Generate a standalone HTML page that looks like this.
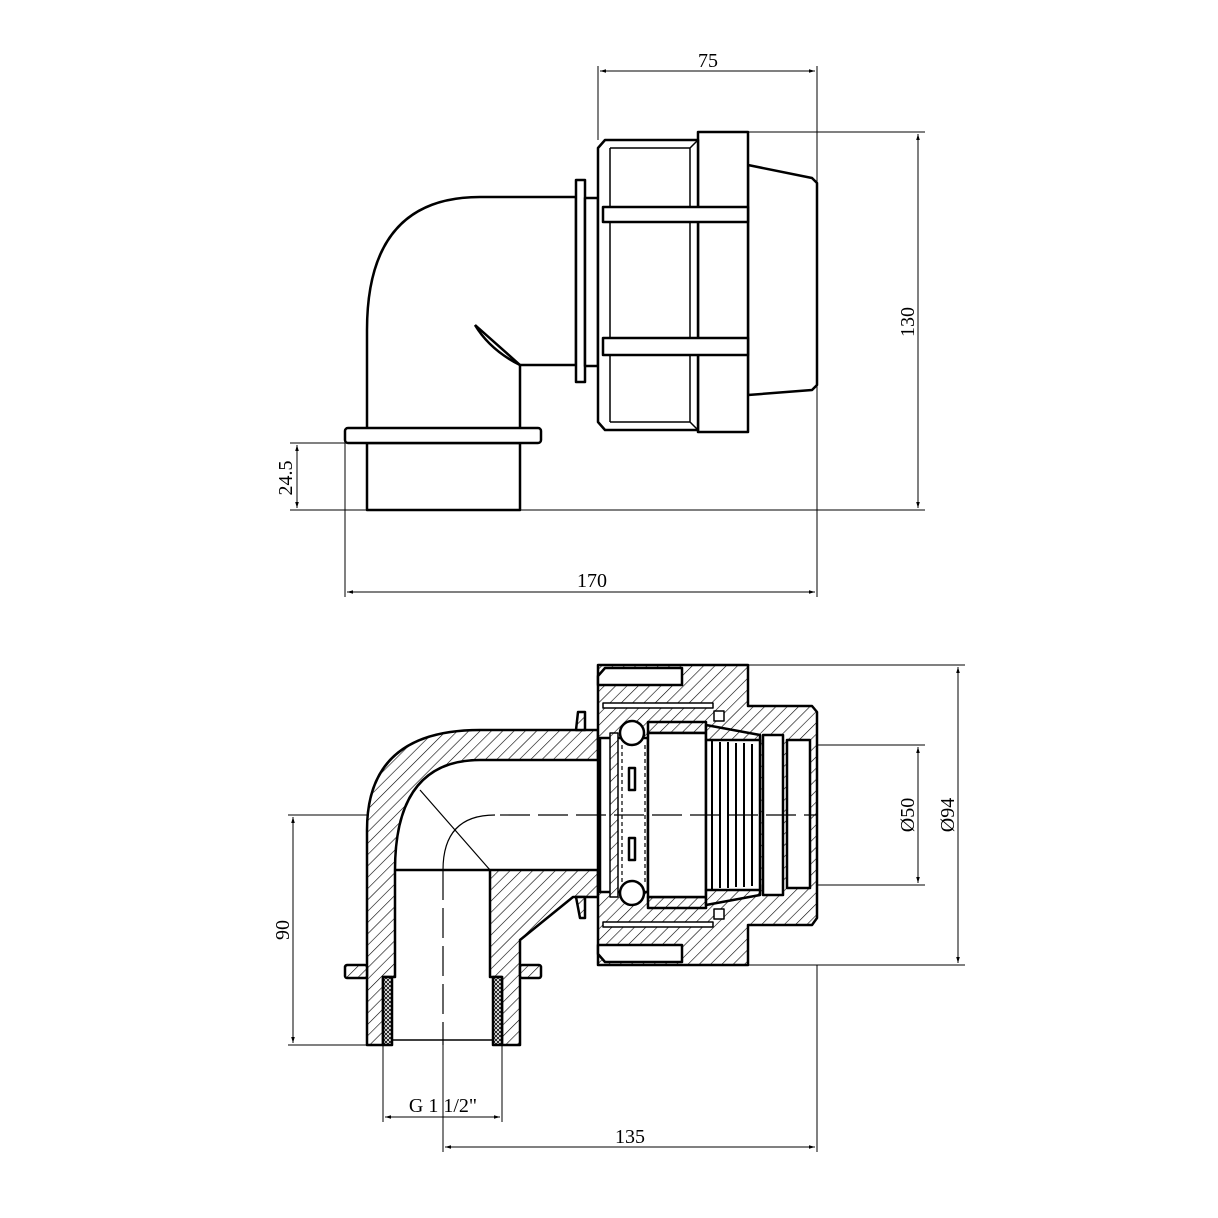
<!DOCTYPE html>
<html><head><meta charset="utf-8"><style>html,body{margin:0;padding:0;background:#fff}svg{display:block}</style></head><body>
<svg width="1218" height="1218" viewBox="0 0 1218 1218" xmlns="http://www.w3.org/2000/svg" font-family="Liberation Serif, serif" font-size="20">
<defs>
<pattern id="h" width="8" height="8" patternUnits="userSpaceOnUse" patternTransform="rotate(45)">
<rect width="8" height="8" fill="#fff"/><line x1="0" y1="0" x2="0" y2="8" stroke="#000" stroke-width="1.2"/></pattern>
<pattern id="x" width="4" height="4" patternUnits="userSpaceOnUse">
<rect width="4" height="4" fill="#fff"/><path d="M0,0 L4,4 M4,0 L0,4" stroke="#000" stroke-width="0.8"/></pattern>
<marker id="a" viewBox="0 0 10 10" refX="10" refY="5" markerWidth="14" markerHeight="6" orient="auto-start-reverse" markerUnits="userSpaceOnUse"><path d="M0,2 L10,5 L0,8 z" fill="#000"/></marker>
</defs>
<g fill="none" stroke="#000" stroke-width="1">
<line x1="598" y1="66" x2="598" y2="140"/><line x1="817" y1="66" x2="817" y2="597"/>
<line x1="600" y1="71" x2="815" y2="71" marker-start="url(#a)" marker-end="url(#a)"/>
<line x1="748" y1="132" x2="925" y2="132"/><line x1="520" y1="510" x2="925" y2="510"/>
<line x1="918" y1="134" x2="918" y2="508" marker-start="url(#a)" marker-end="url(#a)"/>
<line x1="290" y1="443" x2="345" y2="443"/><line x1="290" y1="510" x2="367" y2="510"/>
<line x1="297" y1="445" x2="297" y2="508" marker-start="url(#a)" marker-end="url(#a)"/>
<line x1="345" y1="443" x2="345" y2="597"/>
<line x1="347" y1="592" x2="815" y2="592" marker-start="url(#a)" marker-end="url(#a)"/>
<line x1="748" y1="665" x2="965" y2="665"/><line x1="748" y1="965" x2="965" y2="965"/>
<line x1="958" y1="667" x2="958" y2="963" marker-start="url(#a)" marker-end="url(#a)"/>
<line x1="817" y1="745" x2="925" y2="745"/><line x1="817" y1="885" x2="925" y2="885"/>
<line x1="918" y1="747" x2="918" y2="883" marker-start="url(#a)" marker-end="url(#a)"/>
<line x1="288" y1="815" x2="370" y2="815"/><line x1="288" y1="1045" x2="367" y2="1045"/>
<line x1="293" y1="817" x2="293" y2="1043" marker-start="url(#a)" marker-end="url(#a)"/>
<line x1="383" y1="1045" x2="383" y2="1122"/><line x1="502" y1="1045" x2="502" y2="1122"/>
<line x1="385" y1="1117" x2="500" y2="1117" marker-start="url(#a)" marker-end="url(#a)"/>
<line x1="443" y1="1045" x2="443" y2="1152"/><line x1="817" y1="965" x2="817" y2="1152"/>
<line x1="445" y1="1147" x2="815" y2="1147" marker-start="url(#a)" marker-end="url(#a)"/>
</g>
<g fill="#000">
<text x="708" y="67" text-anchor="middle">75</text>
<text x="592" y="587" text-anchor="middle">170</text>
<text x="443" y="1112" text-anchor="middle">G 1 1/2"</text>
<text x="630" y="1143" text-anchor="middle">135</text>
<text transform="translate(914,322) rotate(-90)" text-anchor="middle">130</text>
<text transform="translate(292,478) rotate(-90)" text-anchor="middle">24.5</text>
<text transform="translate(289,930) rotate(-90)" text-anchor="middle">90</text>
<text transform="translate(914,815) rotate(-90)" text-anchor="middle">Ø50</text>
<text transform="translate(954,815) rotate(-90)" text-anchor="middle">Ø94</text>
</g>
<!-- TOP VIEW -->
<g fill="#fff" stroke="#000" stroke-width="2.5" stroke-linejoin="round">
<path d="M367,430 L367,330 Q367,197 480,197 L576,197 L576,365 L520,365 L520,430 Z"/>
<path d="M475,325 Q490,350 520,365" fill="none"/>
<path d="M475,325 L520,365"/>
<rect x="367" y="443" width="153" height="67"/>
<rect x="345" y="428" width="196" height="15" rx="3"/>
<rect x="576" y="180" width="9" height="202"/>
<rect x="585" y="198" width="13" height="168"/>
<path d="M748,165 L812,178 L817,183 L817,385 L812,390 L748,395 Z"/>
<path d="M698,132 L748,132 L748,432 L698,432 Z"/>
<path d="M605,140 L698,140 L698,430 L605,430 L598,422 L598,148 Z"/>
<path d="M610,148 L690,148 L698,140 M610,422 L690,422 L698,430 M610,148 L610,422 M690,148 L690,422" fill="none" stroke-width="1.5"/>
<rect x="603" y="207" width="145" height="15"/>
<rect x="603" y="338" width="145" height="17"/>
</g>
<!-- BOTTOM VIEW -->
<g stroke="#000" stroke-width="2.5" stroke-linejoin="round">
<!-- elbow -->
<path fill="url(#h)" d="M367,1045 L367,830 Q367,730 480,730 L598,730 L598,760 L480,760 Q395,760 395,870 L395,977 L383,977 L383,1045 Z"/>
<path fill="url(#h)" d="M490,870 L598,870 L598,897 L573,897 L520,940 L520,1045 L502,1045 L502,977 L490,977 Z"/>
<rect x="345" y="965" width="22" height="13" rx="2" fill="url(#h)"/>
<rect x="520" y="965" width="21" height="13" rx="2" fill="url(#h)"/>
<rect x="383" y="977" width="9" height="68" fill="url(#x)"/>
<rect x="493" y="977" width="9" height="68" fill="url(#x)"/>
<line x1="392" y1="1040" x2="493" y2="1040" stroke-width="1.5"/>
<path fill="url(#h)" d="M576,730 L578,712 L585,712 L585,730 Z M576,897 L585,897 L585,918 L580,918 Z"/>
<!-- nut -->
<path fill="url(#h)" d="M598,665 L748,665 L748,706 L812,706 L817,712 L817,918 L812,925 L748,925 L748,965 L598,965 Z"/>
<path fill="#fff" d="M605,668 L682,668 L682,685 L598,685 L598,676 Z"/>
<path fill="#fff" d="M605,962 L682,962 L682,945 L598,945 L598,954 Z"/>
<rect x="603" y="703" width="110" height="5" fill="#fff" stroke-width="1.5"/>
<rect x="603" y="922" width="110" height="5" fill="#fff" stroke-width="1.5"/>
<rect x="714" y="711" width="10" height="10" fill="#fff" stroke-width="1.5"/>
<rect x="714" y="909" width="10" height="10" fill="#fff" stroke-width="1.5"/>
<rect x="600" y="738" width="48" height="154" fill="#fff"/>
<rect x="610" y="733" width="8" height="164" fill="url(#h)" stroke-width="1.5"/>
<rect x="648" y="722" width="58" height="11" fill="url(#h)"/>
<rect x="648" y="897" width="58" height="11" fill="url(#h)"/>
<rect x="648" y="733" width="58" height="164" fill="#fff"/>
<path fill="url(#h)" d="M706,725 L760,735 L760,745 L706,740 Z M706,905 L760,895 L760,885 L706,890 Z"/>
<rect x="706" y="740" width="54" height="150" fill="#fff"/>
<rect x="763" y="735" width="20" height="160" fill="#fff"/>
<rect x="787" y="740" width="23" height="148" fill="#fff"/>
<circle cx="632" cy="733" r="12" fill="#fff"/><circle cx="632" cy="893" r="12" fill="#fff"/>
<rect x="629" y="768" width="6" height="22" fill="#fff"/><rect x="629" y="838" width="6" height="22" fill="#fff"/>
</g>
<g fill="none" stroke="#000" stroke-width="1.2">
<path d="M420,790 L490,870"/>
<path d="M443,870 Q443,815 495,815"/>
<line x1="500" y1="815" x2="817" y2="815" stroke-dasharray="30,8"/>
<line x1="443" y1="870" x2="443" y2="1045" stroke-dasharray="30,8"/>
<line x1="395" y1="870" x2="490" y2="870" stroke-width="2.5"/>
<path d="M712,740 L712,890 M720,742 L720,888 M728,742 L728,888 M736,743 L736,887 M744,743 L744,887 M752,744 L752,886" stroke-width="2"/>
<line x1="622" y1="745" x2="622" y2="882" stroke-dasharray="4,3"/>
<line x1="645" y1="745" x2="645" y2="882" stroke-dasharray="4,3"/>
</g>
</svg>
</body></html>
